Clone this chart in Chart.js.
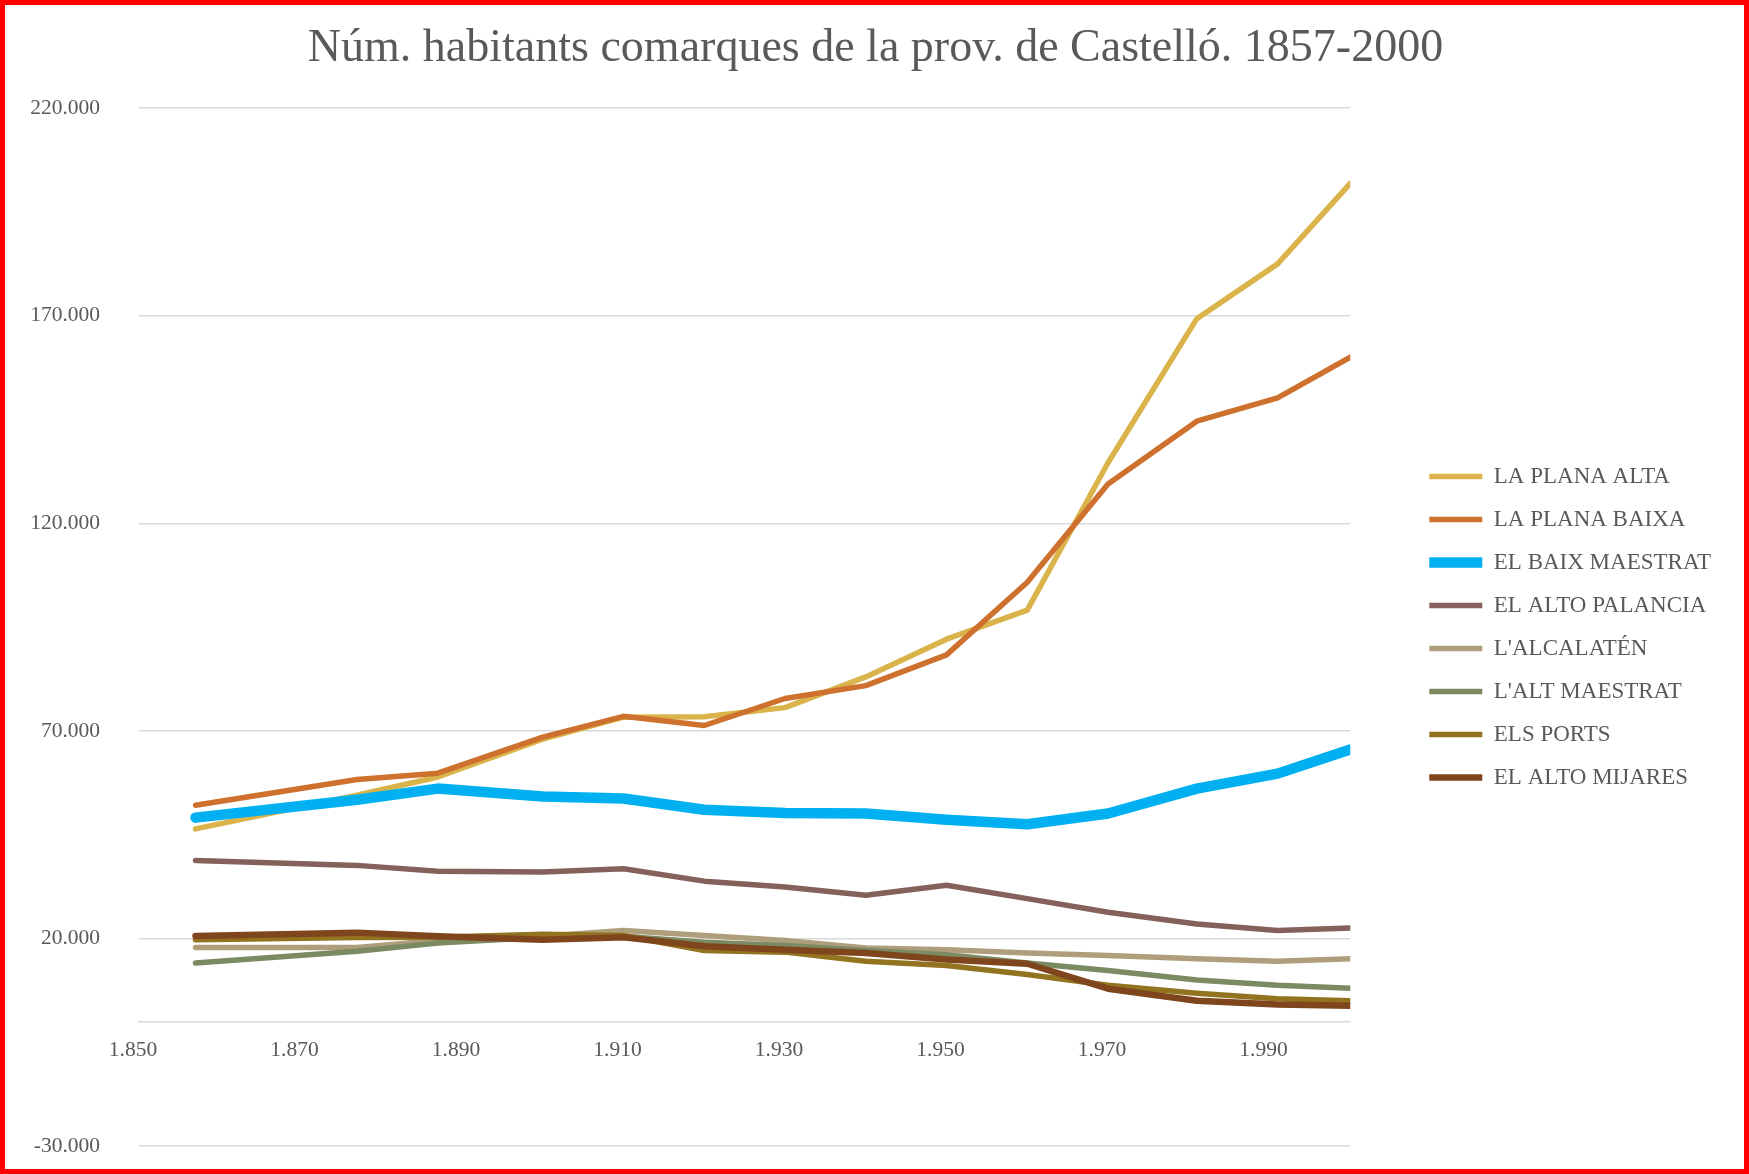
<!DOCTYPE html>
<html>
<head>
<meta charset="utf-8">
<script src="https://cdn.jsdelivr.net/npm/chart.js@4"></script>
<style>
  body { margin: 0; background: #fff; }
  #wrap { width: 1749px; height: 1174px; box-sizing: border-box; border: 5px solid #ff0000; }
  canvas { display: block; }
</style>
</head>
<body>
<div id="wrap"><canvas id="chart" width="1739" height="1164"></canvas></div>
<script>
// census years
const years = [1857, 1877, 1887, 1900, 1910, 1920, 1930, 1940, 1950, 1960, 1970, 1981, 1991, 2000];

const planaAlta   = [46400, 54500, 58900, 68000, 73300, 73400, 75600, 83000, 92100, 99100, 134600, 169300, 182500, 201900];
const planaBaixa  = [52100, 58300, 59800, 68500, 73500, 71300, 77800, 80900, 88300, 105800, 129500, 144600, 150200, 160000];
const baixMaestrat = [49100, 53400, 56100, 54200, 53700, 51000, 50200, 50100, 48600, 47500, 50100, 56100, 59700, 65500];
const altoPalancia = [38800, 37600, 36200, 36000, 36800, 33800, 32400, 30400, 32800, 29600, 26300, 23500, 21900, 22500];
const alcalaten   = [17800, 17800, 19500, 20500, 21900, 20700, 19500, 17700, 17300, 16500, 15900, 15100, 14500, 15100];
const altMaestrat = [14100, 16900, 18900, 20300, 20500, 19100, 18300, 17100, 16100, 14100, 12300, 10000, 8700, 8000];
const elsPorts    = [19700, 20200, 20300, 21000, 20700, 17100, 16700, 14500, 13500, 11300, 8700, 6800, 5500, 5000];
const altoMijares = [20600, 21400, 20500, 19700, 20300, 18100, 17300, 16500, 14900, 13900, 7900, 5000, 4100, 3800];

const seriesNames = ["LA PLANA ALTA", "LA PLANA BAIXA", "EL BAIX MAESTRAT", "EL ALTO PALANCIA",
  "L'ALCALATÉN", "L'ALT MAESTRAT", "ELS PORTS", "EL ALTO MIJARES"];

// axis ticks
const xTicks = [1850, 1870, 1890, 1910, 1930, 1950, 1970, 1990];
const yTicks = [-30000, 20000, 70000, 120000, 170000, 220000];

const colors = ["#dab44a", "#cf712e", "#00b0f0", "#84615a", "#ae9e7b", "#7b8a63", "#927320", "#7f451d"];
const widths = [5.5, 5.5, 10.5, 5.5, 5.5, 5.5, 5.5, 6.5];
const allSeries = [planaAlta, planaBaixa, baixMaestrat, altoPalancia, alcalaten, altMaestrat, elsPorts, altoMijares];

function fmt(v) {
  const s = Math.abs(v).toString().replace(/\B(?=(\d{3})+(?!\d))/g, ".");
  return (v < 0 ? "-" : "") + s;
}

const font = "'Liberation Serif', 'Times New Roman', serif";
const grey = "#595959";

const datasets = allSeries.map((vals, i) => ({
  label: seriesNames[i],
  data: vals.map((v, j) => ({ x: years[j], y: v })),
  borderColor: colors[i],
  backgroundColor: colors[i],
  borderWidth: widths[i],
  borderCapStyle: "round",
  borderJoinStyle: "round",
  pointRadius: 0,
  tension: 0,
  order: allSeries.length - i   // later series on top, as in Excel
}));

new Chart(document.getElementById("chart"), {
  type: "line",
  data: { datasets },
  options: {
    responsive: false,
    devicePixelRatio: 1,
    animation: false,
    layout: { padding: { top: 10, left: 25, right: 23, bottom: 23 } },
    plugins: {
      tooltip: { enabled: false },
      title: {
        display: true,
        text: "Núm. habitants comarques de la prov. de Castelló. 1857-2000",
        color: grey,
        font: { family: font, size: 46, weight: "normal" },
        padding: { top: 6, bottom: 32 }
      },
      legend: {
        position: "right",
        fullSize: false,
        maxWidth: 400,
        labels: {
          usePointStyle: true,
          pointStyle: "line",
          pointStyleWidth: 53,
          padding: 20,
          color: grey,
          font: { family: font, size: 23 },
          sort: (a, b) => a.datasetIndex - b.datasetIndex
        }
      }
    },
    scales: {
      x: {
        type: "linear",
        min: 1850,
        max: 2000,
        position: { y: 0 },
        afterBuildTicks: s => { s.ticks = xTicks.map(v => ({ value: v })); },
        afterFit: s => { s.height = 0; },
        grid: { display: false, drawTicks: false },
        border: { display: true, color: "#d9d9d9", width: 1.5 },
        ticks: {
          padding: 16,
          labelOffset: -6,
          maxRotation: 0,
          autoSkip: false,
          color: grey,
          font: { family: font, size: 21.5 },
          callback: v => fmt(v)
        }
      },
      y: {
        type: "linear",
        min: -30000,
        max: 220000,
        afterBuildTicks: s => { s.ticks = yTicks.map(v => ({ value: v })); },
        afterFit: s => { s.width = 109; s.paddingTop = 0; s.paddingBottom = 0; },
        grid: { color: "#d9d9d9", lineWidth: 1.5, drawTicks: false },
        border: { display: false },
        ticks: {
          padding: 39,
          color: grey,
          font: { family: font, size: 21.5 },
          callback: v => fmt(v)
        }
      },
      gap: {
        type: "linear",
        position: "right",
        display: true,
        grid: { display: false, drawTicks: false },
        border: { display: false },
        ticks: { display: false },
        afterFit: s => { s.width = 59; }
      }
    }
  }
});
</script>
</body>
</html>
